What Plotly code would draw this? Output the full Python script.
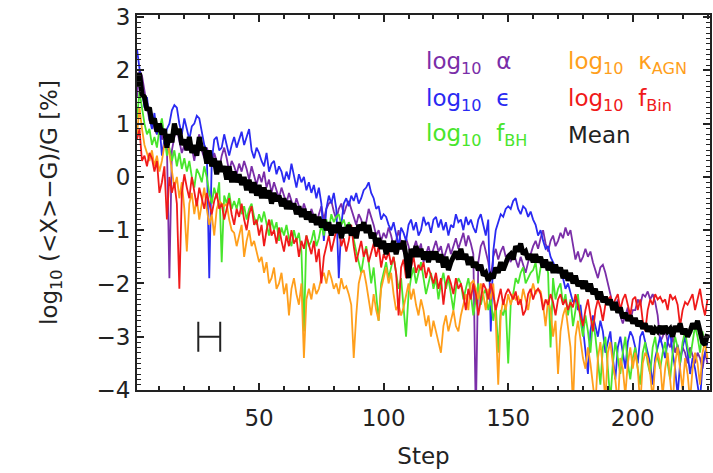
import plotly.graph_objects as go

# Convergence of the mean of each parameter towards the reference value G
steps = list(range(1, 231))

log_alpha = [
    1.5, 2.0, 1.9, 1.6, 1.3, 1.05, 1.15, 0.9, 0.8, 1.0,
    0.7, 0.85, 0.6, -1.9, 0.5, 0.75, 0.9, 0.65, 0.45, 0.6,
    0.5, 0.7, 0.55, 0.3, 0.6, 0.8, 0.5, 0.35, 0.55, 0.4,
    0.2, 0.45, 0.3, 0.15, 0.4, 0.55, 0.35, 0.1, 0.3, 0.2,
    0.05, 0.25, 0.1, 0.3, 0.15, -0.05, 0.2, 0.0, -0.15, 0.05,
    -0.1, 0.1, -0.2, -0.05, -0.3, -0.1, -0.25, -0.4, -0.2, -0.35,
    -0.5, -0.3, -0.45, -0.6, -0.4, -0.55, -0.7, -0.5, -0.65, -0.8,
    -0.6, -0.75, -0.9, -0.7, -0.55, -0.8, -0.6, -0.5, -0.45, -0.65,
    -0.8, -0.6, -0.5, -0.7, -0.55, -0.45, -0.6, -0.75, -0.9, -0.7,
    -0.8, -1.0, -0.85, -0.6, -0.75, -0.9, -1.1, -1.0, -1.2, -1.05,
    -1.15, -0.95, -1.1, -1.3, -1.2, -1.0, -1.25, -1.4, -1.15, -1.3,
    -1.5, -1.35, -1.2, -1.4, -1.25, -1.6, -1.45, -1.3, -1.5, -1.35,
    -1.2, -1.4, -1.3, -1.55, -1.4, -1.25, -1.45, -1.3, -1.15, -1.35,
    -1.2, -1.05, -1.3, -1.1, -1.25, -1.45, -4.5, -1.6, -1.3, -1.2,
    -1.4, -1.6, -1.9, -1.5, -1.35, -1.55, -1.4, -1.3, -1.5, -1.45,
    -1.6, -1.4, -1.55, -1.7, -1.5, -1.65, -1.8, -1.6, -1.45, -1.3,
    -1.2, -1.35, -1.15, -1.0, -1.25, -1.4, -1.2, -1.1, -1.3, -1.2,
    -1.05, -1.15, -0.95, -1.1, -1.0, -1.3, -1.55, -1.4, -1.6, -1.5,
    -1.35, -1.5, -1.4, -1.6, -1.75, -1.9, -1.7, -1.65, -1.8, -2.0,
    -2.2, -2.4, -2.5, -2.3, -2.6, -2.75, -2.6, -2.45, -2.7, -2.5,
    -2.5, -2.3, -2.4, -2.2, -2.25, -2.15, -2.3, -2.2, -2.35, -2.6,
    -3.1, -3.0, -2.85, -3.1, -3.2, -3.0, -3.3, -3.15, -3.4, -3.2,
    -3.3, -3.5, -3.2, -3.35, -3.5, -3.3, -3.4, -3.6, -3.3, -3.5,
]

log_eps = [
    2.4, 2.0, 1.6, 1.3, 1.5, 1.1, 0.9, 1.2, 0.8, 1.0,
    0.4, 0.7, 0.9, 1.0, 1.25, 1.35, 1.3, 1.0, 0.8, 1.1,
    0.9, 0.7, 0.95, 1.0, 1.15, 1.1, 0.85, 0.6, 0.5, -1.9,
    0.3, 0.7, 0.75, 0.5, 0.55, 0.8, 0.6, 0.4, 0.6, 0.75,
    0.55, 0.7, 0.85, 0.6, 0.75, 0.9, 0.5, 0.35, 0.55, 0.45,
    0.3, 0.2, 0.45, 0.1, 0.25, 0.3, 0.05, 0.2, 0.1, -0.1,
    0.1, -0.05, 0.25, 0.0, -0.2, 0.05, -0.1, 0.0, -0.25, -0.1,
    -0.3, -0.15, -0.4, -0.2, -0.5, -1.2, -0.6, -0.35, -0.5, -0.3,
    -0.6, -1.9, -0.9, -0.5, -0.4, -0.55, -0.35, -0.45, -0.3, -0.5,
    -0.4, -0.25, -0.2, -0.1, -0.3, -0.4, -0.6, -0.55, -0.8, -0.7,
    -0.75, -0.9, -1.0, -0.85, -1.1, -1.3, -0.95, -1.05, -1.2, -0.9,
    -0.8, -1.0, -0.85, -1.1, -1.0, -0.75, -0.9, -0.85, -1.05, -0.8,
    -0.75, -0.95, -0.8, -1.0, -0.85, -1.1, -0.9, -0.95, -0.7, -0.85,
    -0.8, -1.0, -0.75, -0.9, -0.8, -0.95, -1.05, -0.8, -0.7, -0.9,
    -1.1, -0.8, -2.9, -1.4, -1.0, -0.85, -0.7, -0.75, -0.6, -0.55,
    -0.6, -0.45, -0.4, -0.6, -0.7, -0.55, -0.6, -0.75, -0.65, -0.8,
    -0.9, -1.1, -1.0, -1.2, -1.35, -1.3, -1.5, -1.6, -1.7, -1.8,
    -1.7, -1.9, -2.1, -2.0, -2.2, -2.35, -2.3, -2.5, -2.4, -2.8,
    -3.2, -3.7, -2.9, -2.6, -2.8, -3.0, -2.7, -2.9, -3.3, -3.1,
    -2.9, -3.4, -3.8, -3.2, -3.0, -3.3, -3.6, -3.1, -2.9, -3.0,
    -3.2, -3.5, -3.0, -2.9, -3.1, -3.3, -3.5, -3.9, -3.4, -3.2,
    -3.0, -3.2, -3.4, -3.1, -2.9, -3.3, -3.6, -4.1, -3.5, -3.2,
    -3.0, -3.3, -3.7, -3.4, -3.6, -3.9, -4.2, -3.5, -3.3, -3.1,
]

log_fbh = [
    1.1, 1.6, 1.3, 1.0, 0.8, 0.9, 0.6, 0.75, 0.55, 0.9,
    1.1, 0.7, 0.4, 0.55, 0.3, 0.5, 0.2, 0.45, 0.15, 0.35,
    0.1, 0.3, 0.0, -0.2, 0.15, 0.05, -0.1, 0.2, 0.0, -0.3,
    -0.5, -0.2, -0.4, -0.1, -1.6, -0.35, -0.5, -0.3, -0.6, -0.45,
    -0.6, -0.4, -0.7, -0.55, -0.8, -0.6, -0.5, -0.75, -0.9, -0.7,
    -0.85, -0.65, -0.9, -1.1, -0.8, -1.0, -0.85, -1.2, -0.95, -1.1,
    -0.9, -1.15, -1.3, -1.0, -1.2, -1.05, -1.4, -2.9, -1.1, -1.3,
    -1.2, -1.0, -1.3, -1.15, -0.9, -1.1, -0.8, -1.0, -0.7, -0.85,
    -0.75, -0.7, -0.9, -0.8, -1.0, -0.85, -0.95, -1.2, -1.4, -1.6,
    -1.8, -1.5, -1.3, -1.6, -2.0, -1.7, -2.2, -2.7, -2.0, -1.8,
    -1.6, -1.9, -1.7, -1.5, -1.8, -2.1, -1.9, -2.4, -3.0, -2.2,
    -1.9, -1.7, -2.0, -1.8, -1.6, -1.9, -2.2, -2.0, -1.8, -2.1,
    -1.9, -2.3, -2.0, -1.8, -2.1, -1.9, -2.2, -2.5, -2.1, -1.9,
    -2.0, -2.3, -2.1, -1.9, -2.2, -2.6, -2.3, -2.0, -2.4, -2.2,
    -2.1, -2.5, -2.3, -2.7, -2.4, -3.3, -2.5, -2.6, -2.4, -3.5,
    -2.4, -2.2, -1.9, -2.0, -1.8, -1.7, -2.0, -1.9, -1.8, -1.75,
    -1.6, -2.0, -1.7, -1.55, -1.6, -1.8, -3.2, -1.9, -2.3, -2.1,
    -2.0, -2.4, -2.2, -2.6, -2.3, -2.8, -2.5, -2.2, -2.7, -3.0,
    -2.6, -2.9, -3.3, -2.7, -3.0, -3.4, -3.9, -3.2, -3.0, -3.6,
    -4.2, -3.5, -3.1, -3.4, -3.7, -3.3, -3.0, -3.5, -3.8, -3.4,
    -3.2, -3.6, -3.9, -3.3, -3.1, -3.5, -3.7, -3.2, -3.0, -3.4,
    -3.6, -3.3, -3.1, -3.5, -3.8, -3.3, -3.0, -3.2, -3.5, -3.1,
    -2.9, -3.2, -3.4, -3.1, -2.8, -3.0, -3.3, -2.9, -3.2, -3.0,
]

log_kagn = [
    0.8, 1.3, 0.9, 0.6, 0.45, 0.3, 0.5, 0.2, 0.4, 0.1,
    0.3, 0.6, 0.75, 0.4, 0.1, -0.2, 0.0, -0.4, -0.1, -0.6,
    -1.4, -0.5, -0.3, -0.7, -0.4, -0.8, -0.5, -0.2, -0.6, -0.9,
    -0.7, -1.1, -0.6, -0.45, -0.5, -0.55, -0.5, -0.8, -1.0, -1.05,
    -1.3, -1.1, -0.9, -1.5, -1.2, -1.0, -1.3, -1.2, -1.4, -1.6,
    -1.5, -1.8, -1.6, -2.0, -1.9, -1.7, -2.1, -2.0, -1.8, -2.2,
    -2.0, -2.6, -2.1, -1.9, -2.2, -2.4, -2.0, -3.4, -2.3, -2.1,
    -2.3, -2.0, -2.2, -2.1, -1.9, -1.8, -2.0, -1.75, -1.9, -2.1,
    -2.0, -2.2, -1.9, -2.1, -2.05, -2.2, -2.4, -3.4, -2.6, -2.0,
    -1.8, -1.75, -2.0, -2.3, -2.6, -2.2, -2.5, -2.7, -2.1, -1.9,
    -1.7, -2.0, -1.8, -2.2, -2.5, -2.4, -2.6, -2.45, -2.2, -2.0,
    -2.3, -2.1, -2.4, -2.6, -2.3, -2.5, -2.8, -2.6, -3.0, -2.7,
    -2.9, -3.1, -3.3, -2.8, -2.6, -2.9, -2.7, -2.5, -2.8, -2.9,
    -2.6, -2.4, -2.2, -2.5, -2.0, -1.95, -2.1, -2.3, -2.0, -2.2,
    -2.5, -2.1, -2.3, -2.0, -2.7, -3.9, -2.6, -2.3, -2.5, -2.2,
    -2.4, -2.2, -2.3, -2.25, -2.4, -2.1, -2.3, -2.5, -2.2, -2.0,
    -2.2, -2.1, -2.15, -2.4, -2.8, -2.3, -2.5, -3.0, -2.7, -3.7,
    -2.9, -2.6, -2.45, -2.8, -3.2, -4.3, -3.0, -2.7, -3.1, -3.4,
    -3.6, -3.2, -3.5, -3.9, -4.3, -3.4, -3.1, -3.6, -4.2, -3.3,
    -3.1, -3.5, -3.8, -4.3, -3.4, -3.6, -4.1, -3.5, -3.2, -3.6,
    -3.3, -3.6, -4.3, -3.5, -3.3, -3.4, -3.7, -4.2, -3.5, -3.3,
    -3.5, -4.1, -3.6, -3.3, -3.8, -4.3, -3.5, -3.2, -3.6, -4.0,
    -3.4, -3.7, -4.2, -3.6, -3.3, -3.5, -3.9, -3.3, -3.1, -3.4,
]

log_fbin = [
    0.7, 0.9, 0.3, 0.4, 0.2, 0.45, 0.35, 0.1, 0.3, -0.3,
    -0.1, 0.2, -0.8, 0.0, -0.3, -0.1, -0.5, -2.1, -0.3, 0.05,
    -0.2, -0.4, 0.0, -0.3, -0.55, -0.2, -0.4, -0.6, -0.3, -0.5,
    -0.7, -0.45, -0.3, -0.6, -0.5, -0.8, -0.6, -0.4, -0.7, -0.9,
    -0.6, -0.75, -0.5, -0.8, -1.0, -0.7, -0.55, -0.9, -0.8, -1.1,
    -0.9, -1.3, -1.0, -0.8, -1.1, -1.0, -1.25, -0.95, -1.2, -1.4,
    -1.1, -1.3, -1.0, -1.25, -1.15, -1.5, -1.2, -1.35, -1.1, -1.3,
    -1.45, -1.2, -1.6, -1.35, -2.0, -1.5, -1.3, -1.1, -1.4, -1.2,
    -1.0, -0.95, -1.3, -1.15, -1.4, -1.2, -0.9, -1.3, -1.6, -1.4,
    -1.2, -1.5, -1.35, -1.6, -1.4, -1.25, -1.5, -1.3, -1.7, -1.45,
    -1.55, -1.4, -1.65, -1.5, -1.8, -2.6, -1.7, -1.55, -1.9, -1.6,
    -1.7, -1.5, -1.8, -1.65, -1.75, -1.6, -1.9, -1.7, -1.85, -2.0,
    -1.8, -2.1, -1.9, -2.4, -2.0, -1.85, -2.0, -2.2, -1.9, -2.1,
    -2.0, -2.2, -2.5, -2.1, -2.3, -2.0, -2.2, -2.6, -2.3, -2.0,
    -2.1, -2.3, -2.0, -2.2, -2.5, -2.3, -2.1, -2.4, -2.2, -2.1,
    -2.2, -2.3, -2.15, -2.4, -2.3, -2.6, -2.5, -2.2, -2.1, -2.3,
    -2.15, -2.1, -2.2, -2.5, -2.3, -2.4, -2.2, -2.35, -2.6, -2.3,
    -2.2, -2.4, -2.3, -2.5, -2.35, -2.45, -2.2, -2.4, -2.6, -2.8,
    -2.5, -2.3, -2.6, -2.9, -2.5, -2.3, -2.45, -2.7, -2.4, -2.3,
    -2.25, -2.4, -2.3, -2.2, -2.5, -2.3, -2.2, -2.4, -2.6, -2.3,
    -2.25, -2.5, -2.3, -2.7, -2.9, -2.5, -2.3, -2.4, -2.2, -2.3,
    -2.25, -2.35, -2.3, -2.5, -2.2, -2.3, -2.25, -2.4, -2.8, -2.5,
    -2.35, -2.4, -2.3, -2.2, -2.5, -2.3, -2.1, -2.4, -2.6, -2.3,
]

log_mean = [
    1.7, 1.95, 1.55, 1.5, 1.25, 1.3, 1.0, 1.1, 0.85, 1.0,
    0.8, 0.9, 0.55, 0.8, 0.65, 1.0, 0.8, 0.9, 0.6, 0.7,
    0.5, 0.75, 0.45, 0.6, 0.4, 0.75, 0.5, 0.55, 0.25, 0.5,
    0.2, 0.35, 0.05, 0.3, 0.1, 0.2, -0.05, 0.2, -0.1, 0.1,
    -0.1, 0.05, -0.15, 0.0, -0.25, -0.05, -0.3, -0.1, -0.35, -0.15,
    -0.4, -0.2, -0.4, -0.25, -0.5, -0.3, -0.45, -0.35, -0.55, -0.4,
    -0.6, -0.45, -0.6, -0.5, -0.7, -0.55, -0.75, -0.6, -0.8, -0.65,
    -0.85, -0.7, -0.9, -0.75, -0.95, -0.8, -1.0, -0.85, -1.1, -0.9,
    -1.05, -0.85, -1.15, -0.95, -1.05, -0.9, -1.1, -0.95, -1.15, -0.9,
    -1.0, -0.85, -1.05, -0.9, -1.15, -1.05, -1.3, -1.15, -1.35, -1.2,
    -1.45, -1.25, -1.4, -1.2, -1.45, -1.25, -1.35, -1.2, -1.5, -1.9,
    -1.35, -1.5, -1.3, -1.5, -1.35, -1.55, -1.4, -1.6, -1.4, -1.55,
    -1.4, -1.6, -1.45, -1.7, -1.5, -1.75, -1.6, -1.5, -1.4, -1.55,
    -1.35, -1.55, -1.45, -1.65, -1.5, -1.7, -1.6, -1.75, -1.65, -1.85,
    -1.8, -1.95, -1.85, -1.9, -1.7, -1.8, -1.6, -1.75, -1.6, -1.5,
    -1.45, -1.55, -1.3, -1.4, -1.25, -1.45, -1.4, -1.55, -1.45, -1.6,
    -1.45, -1.6, -1.5, -1.7, -1.55, -1.75, -1.6, -1.8, -1.65, -1.8,
    -1.7, -1.9, -1.75, -1.95, -1.8, -2.0, -1.85, -2.05, -1.95, -2.1,
    -1.95, -2.15, -2.0, -2.2, -2.1, -2.3, -2.15, -2.35, -2.25, -2.4,
    -2.3, -2.5, -2.35, -2.55, -2.45, -2.65, -2.55, -2.7, -2.6, -2.75,
    -2.65, -2.8, -2.7, -2.85, -2.75, -2.9, -2.8, -2.95, -2.85, -2.9,
    -2.8, -2.95, -2.8, -2.9, -2.85, -3.0, -2.8, -2.9, -2.75, -2.95,
    -2.85, -3.0, -2.9, -2.75, -2.85, -2.7, -2.9, -3.1, -3.15, -2.95,
]

# Width of the averaging window, drawn as a horizontal bar
window_step = [30]
window_level = [-3.0]
window_half = [4.4]

series = [
    ("log<sub>10</sub> α", log_alpha, "#7a2ea8", 1.8),
    ("log<sub>10</sub> ϵ", log_eps, "#2a2af2", 1.8),
    ("log<sub>10</sub> f<sub>BH</sub>", log_fbh, "#48e52c", 1.8),
    ("log<sub>10</sub> κ<sub>AGN</sub>", log_kagn, "#ff9f1c", 1.8),
    ("log<sub>10</sub> f<sub>Bin</sub>", log_fbin, "#f01a1a", 1.8),
    ("Mean", log_mean, "#000000", 5),
]

fig = go.Figure()
for name, vals, color, width in series:
    fig.add_trace(go.Scatter(
        x=steps[:len(vals)], y=vals, mode="lines", name=name,
        line=dict(color=color, width=width), showlegend=False,
    ))

fig.add_trace(go.Scatter(
    x=window_step, y=window_level, mode="markers",
    marker=dict(size=1, color="rgba(0,0,0,0)"),
    error_x=dict(type="data", array=window_half, width=15,
                 thickness=2, color="#222222"),
    showlegend=False,
))

FONT = "DejaVu Sans"
axis_common = dict(
    showline=True, linecolor="#222222", linewidth=2, mirror="allticks",
    ticks="inside", tickcolor="#222222", tickwidth=1.5, ticklen=7,
    showgrid=False, zeroline=False,
    tickfont=dict(family=FONT, size=23, color="#222222"),
)

fig.update_xaxes(
    range=[1, 231], tick0=0, dtick=50, ticklabelstandoff=6,
    minor=dict(dtick=10, ticks="inside", ticklen=4, tickcolor="#222222", tickwidth=1.5, showgrid=False),
    title=dict(text="Step", font=dict(family=FONT, size=23, color="#222222"), standoff=18),
    **axis_common,
)
fig.update_yaxes(
    range=[-4.0, 3.04], tick0=0, dtick=1,
    minor=dict(dtick=0.1, ticks="inside", ticklen=4, tickcolor="#222222", tickwidth=1.2, showgrid=False),
    title=dict(text="log<sub>10</sub> (&lt;X&gt;−G)/G [%]",
               font=dict(family=FONT, size=23, color="#222222"), standoff=32),
    **axis_common,
)

# Colour-coded labels in the upper right corner
label_rows = [
    (0.501, 0.872, "log<sub>10</sub>  α", "#7a2ea8"),
    (0.501, 0.773, "log<sub>10</sub>  ϵ", "#2a2af2"),
    (0.501, 0.680, "log<sub>10</sub>  f<sub>BH</sub>", "#48e52c"),
    (0.748, 0.872, "log<sub>10</sub>  κ<sub>AGN</sub>", "#ff9f1c"),
    (0.748, 0.773, "log<sub>10</sub>  f<sub>Bin</sub>", "#f01a1a"),
    (0.748, 0.680, "Mean", "#222222"),
]
for lx, ly, txt, col in label_rows:
    fig.add_annotation(
        x=lx, y=ly, xref="paper", yref="paper", text=txt, showarrow=False,
        xanchor="left", yanchor="middle",
        font=dict(family=FONT, size=23, color=col),
    )

fig.update_layout(
    width=713, height=473,
    margin=dict(l=137, r=1, t=15, b=83),
    paper_bgcolor="white", plot_bgcolor="white",
)

fig.write_html("out.html")
